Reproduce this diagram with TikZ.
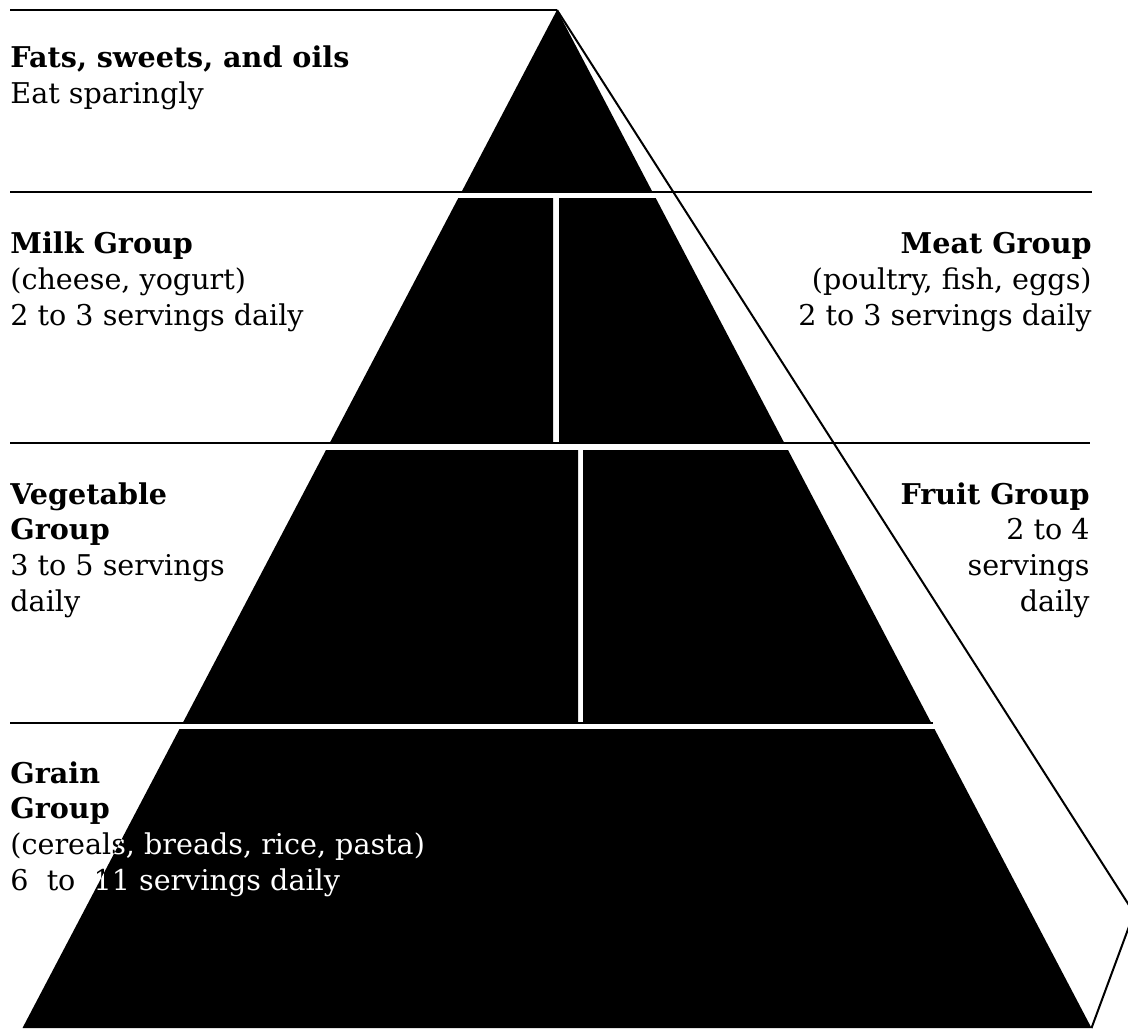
\documentclass[tikz,border=0pt]{standalone}
\usepackage{fontspec}
\setmainfont{DejaVu Serif}
\usetikzlibrary{positioning}

\tikzset{
    tier/.style={fill=black, draw=none},
    rule/.style={line width=1.4pt},
    side/.style={line width=1pt},
    grouptext/.style={inner sep=0pt, text=white,
        font=\fontsize{14.3}{17.8}\selectfont},
}

\begin{document}
\begin{tikzpicture}[x=0.5pt, y=-0.5pt]
    \useasboundingbox (0,0) rectangle (1128,1028);
    \clip (0,0) rectangle (1128,1028);
    \fill[white] (0,0) rectangle (1128,1028);

    \coordinate (apex) at (557,10);
    \coordinate (back) at (1134,913);
    \coordinate (front) at (1091.5,1028);

    % level rules
    \draw[rule] (10,10) -- (apex);
    \draw[rule] (10,192) -- (1092,192);
    \draw[rule] (10,443) -- (1090,443);
    \draw[rule] (10,723) -- (933,723);

    % the pyramid, tier by tier
    \fill[tier] (apex) -- (652.5,192) -- (461.5,192) -- cycle;
    \fill[tier] (458.3,198) -- (553,198) -- (553,443) -- (329.7,443) -- cycle;
    \fill[tier] (559,198) -- (655.7,198) -- (784.3,443) -- (559,443) -- cycle;
    \fill[tier] (326,450) -- (578,450) -- (578,723) -- (182.7,723) -- cycle;
    \fill[tier] (583,450) -- (788,450) -- (931.3,723) -- (583,723) -- cycle;
    \fill[tier] (179.5,729) -- (934.5,729) -- (front) -- (22.5,1028) -- cycle;

    % side face
    \draw[side] (apex) -- (back) -- (front);

    % base anchor = last line
    \begin{scope}[blend mode=difference]
    \node[grouptext, anchor=base west, align=left] (fats) at (10,103)
        {\textbf{Fats, sweets, and oils}\\Eat sparingly};
    \node[grouptext, anchor=base west, align=left] (milk) at (10,325)
        {\textbf{Milk Group}\\(cheese, yogurt)\\2 to 3 servings daily};
    \node[grouptext, anchor=base east, align=right] (meat) at (1092,325)
        {\textbf{Meat Group}\\(poultry, fish, eggs)\\2 to 3 servings daily};
    \node[grouptext, anchor=base west, align=left] (veg) at (10,611)
        {\textbf{Vegetable}\\\textbf{Group}\\3 to 5 servings\\daily};
    \node[grouptext, anchor=base east, align=right] (fruit) at (1090,611)
        {\textbf{Fruit Group}\\2 to 4\\servings\\daily};
    \node[grouptext, anchor=base west, align=left] (grain) at (10,890)
        {\textbf{Grain}\\\textbf{Group}\\(cereals, breads, rice, pasta)\\6~~to~~11 servings daily};
    \end{scope}
\end{tikzpicture}
\end{document}
